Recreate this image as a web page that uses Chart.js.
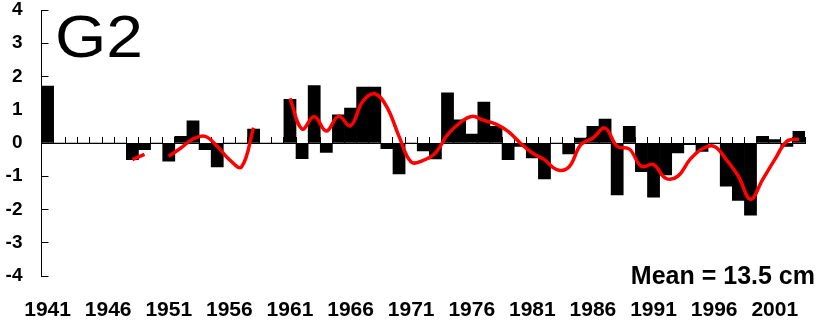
<!DOCTYPE html>
<html>
<head>
<meta charset="utf-8">
<script src="https://cdn.jsdelivr.net/npm/chart.js@4"></script>
<style>
  body { margin: 0; background: #fff; }
  #wrap { position: relative; width: 823px; height: 324px; overflow: hidden; }
  .note { position: absolute; font-family: 'Liberation Sans', Arial, sans-serif; color: #000; line-height: 1; white-space: nowrap; }
  #site { left: 55px; top: 7px; font-size: 60px; transform: scaleX(1.1); transform-origin: left top; }
  #mean { right: 8px; top: 263px; font-size: 25px; font-weight: bold; }
</style>
</head>
<body>
<div id="wrap">
  <canvas id="myChart" width="823" height="324"></canvas>
  <div class="note" id="site">G2</div>
  <div class="note" id="mean">Mean = 13.5 cm</div>
</div>
<script>
// years on the x axis
const years = ['1941','1942','1943','1944','1945','1946','1947','1948','1949','1950',
  '1951','1952','1953','1954','1955','1956','1957','1958','1959','1960',
  '1961','1962','1963','1964','1965','1966','1967','1968','1969','1970',
  '1971','1972','1973','1974','1975','1976','1977','1978','1979','1980',
  '1981','1982','1983','1984','1985','1986','1987','1988','1989','1990',
  '1991','1992','1993','1994','1995','1996','1997','1998','1999','2000',
  '2001','2002','2003']
const labelYears = ['1941','1946','1951','1956','1961','1966','1971','1976','1981','1986','1991','1996','2001']
const yTicks = [-4,-3,-2,-1,0,1,2,3,4]

// yearly anomaly (bars)
const anomaly = [1.71, 0, 0, 0, 0, 0, 0, -0.5, -0.2, 0,
  -0.55, 0.2, 0.67, -0.2, -0.72, 0, 0, 0.42, 0, 0,
  1.31, -0.47, 1.73, -0.28, 0.85, 1.05, 1.68, 1.68, -0.17, -0.93,
  0, -0.24, -0.48, 1.51, 0.7, 0.27, 1.23, 0.5, -0.5, -0.1,
  -0.45, -1.08, 0, -0.33, 0.15, 0.5, 0.72, -1.56, 0.5, -0.86,
  -1.63, -0.96, -0.3, -0.05, -0.25, 0, -1.3, -1.73, -2.17, 0.2,
  0.1, -0.1, 0.35]

// smoothed curve (red), null where it is broken
const smooth = [null, null, null, null, null, null, null, -0.5, -0.34, null,
  -0.4, -0.15, 0.12, 0.2, -0.1, -0.5, -0.72, 0.46, null, null,
  1.34, 0.42, 0.8, 0.36, 0.8, 0.52, 1.25, 1.48, 1.08, 0.2,
  -0.57, -0.52, -0.3, 0.25, 0.6, 0.8, 0.68, 0.57, 0.35, 0,
  -0.3, -0.5, -0.8, -0.73, -0.05, 0.15, 0.45, -0.1, -0.18, -0.7,
  -0.65, -1.06, -1.0, -0.5, -0.18, -0.1, -0.5, -1.0, -1.69, -1.1,
  -0.5, 0.05, 0.12]

const fontFam = "'Liberation Sans', Arial, sans-serif"

const data = {
  labels: years,
  datasets: [
    {
      type: 'line',
      data: smooth,
      borderColor: '#ff0000',
      borderWidth: 3.5,
      pointRadius: 0,
      tension: 0.4,
      spanGaps: false,
      order: 0
    },
    {
      type: 'bar',
      data: anomaly,
      backgroundColor: '#000',
      borderWidth: 0,
      barPercentage: 1,
      categoryPercentage: 1,
      order: 1
    }
  ]
}

const config = {
  type: 'bar',
  data: data,
  options: {
    responsive: false,
    animation: false,
    layout: { padding: { left: 5, right: 4, top: 10, bottom: 0 } },
    plugins: { legend: { display: false }, tooltip: { enabled: false } },
    scales: {
      x: {
        type: 'category',
        offset: true,
        grid: { display: false, drawTicks: false },
        border: { display: false },
        ticks: {
          autoSkip: false,
          maxRotation: 0,
          padding: 24,
          color: '#000',
          font: { family: fontFam, size: 21, weight: 'bold', lineHeight: 1 },
          callback: function (v, i) { return labelYears.includes(years[i]) ? years[i] : '' }
        },
        afterFit: function (s) { s.height = 48 }
      },
      x0: {
        type: 'category',
        position: { y: 0 },
        offset: true,
        grid: { offset: true, drawOnChartArea: false, tickLength: -7, color: '#000', tickWidth: 1 },
        border: { display: true, color: '#000', width: 1 },
        ticks: { display: false },
        afterFit: function (s) { s.height = 0 }
      },
      y: {
        min: -4,
        max: 4,
        afterBuildTicks: function (s) { s.ticks = yTicks.map(v => ({ value: v })) },
        ticks: {
          padding: 26,
          color: '#000',
          font: { family: fontFam, size: 19, weight: 'bold' }
        },
        grid: { drawOnChartArea: false, tickLength: -7, color: '#000' },
        border: { color: '#000', width: 1 },
        afterFit: function (s) {
          s.width = 36
          s.paddingTop = 0
          s.paddingBottom = 0
        }
      }
    }
  }
}

new Chart(document.getElementById('myChart'), config)
</script>
</body>
</html>
